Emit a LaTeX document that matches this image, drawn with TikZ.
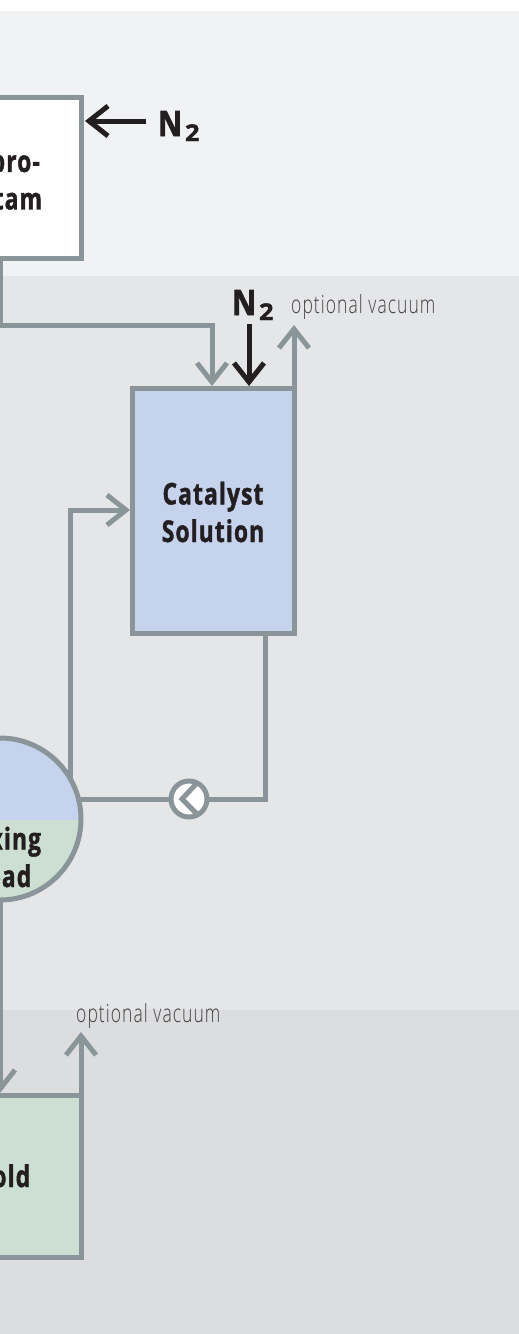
\documentclass[tikz,border=0pt]{standalone}
\usepackage{fontspec}
\usetikzlibrary{arrows.meta,calc}
\setmainfont{Open Sans}
\newfontfamily\condbold[FakeStretch=0.76,FakeBold=1.4,LetterSpace=3.7,UprightFont={* Bold}]{Open Sans}
\newfontfamily\gasbold[FakeStretch=0.84,FakeBold=2,UprightFont={* Bold}]{Open Sans}
\newfontfamily\subbold[FakeStretch=1.1,FakeBold=2,UprightFont={* Bold}]{Open Sans}
\newfontfamily\condlight[FakeStretch=0.7,LetterSpace=4.2,UprightFont={* Light}]{Open Sans}
\definecolor{bandA}{HTML}{F1F2F4}
\definecolor{bandB}{HTML}{E5E6E8}
\definecolor{bandC}{HTML}{DCDDDF}
\definecolor{pipe}{HTML}{8A9599}
\definecolor{ink}{HTML}{231F20}
\definecolor{blueliq}{HTML}{C5D3EC}
\definecolor{greenliq}{HTML}{CCDFD2}
\pgfdeclarelayer{bands}
\pgfdeclarelayer{pipes}
\pgfsetlayers{bands,pipes,main}
\tikzset{
  vessel/.style={draw=pipe,line width=5pt,inner sep=0pt,outer sep=0pt,rectangle},
  pipeline/.style={draw=pipe,line width=5pt,line join=miter},
  barb/.style={-{Straight Barb[length=19pt,width=30pt,line width=5pt]}},
  gasline/.style={draw=ink,line width=5pt},
  boxlabel/.style={text=ink,font={\condbold\fontsize{30}{37.5}\selectfont},align=center,inner sep=0pt},
  gaslabel/.style={text=ink,inner sep=0pt,anchor=base west},
  vaclabel/.style={text=ink!85,font={\condlight\fontsize{25}{29}\selectfont},inner sep=0pt,anchor=base west},
}
\newcommand{\NTwo}{{\gasbold\fontsize{35}{35}\selectfont N\kern3pt}{\subbold\fontsize{23}{23}\selectfont\raisebox{-5pt}{2}}}
\begin{document}
\begin{tikzpicture}[x=1pt,y=-1pt]
\useasboundingbox (0,0) rectangle (519,1334);
\begin{pgfonlayer}{bands}
\fill[white] (0,0) rectangle (519,11);
\fill[bandA] (0,11) rectangle (519,276);
\fill[bandB] (0,276) rectangle (519,1010);
\fill[bandC] (0,1010) rectangle (519,1334);
\end{pgfonlayer}

% vessels
\node[vessel,fill=white,minimum width=162pt,minimum height=161pt] (capro) at (0,177.5) {};
\node[vessel,fill=blueliq,minimum width=162pt,minimum height=245pt] (cat) at (213,510.5) {};
\node[vessel,fill=greenliq,minimum width=162pt,minimum height=162pt] (mold) at (0,1176) {};
\coordinate (mix) at (0,819);
\fill[blueliq] (-81,820) arc[start angle=180,end angle=0,radius=81pt] -- cycle;
\fill[greenliq] (-81,820) arc[start angle=180,end angle=360,radius=81pt] -- cycle;
\node[draw=pipe,line width=5pt,circle,minimum size=162pt,inner sep=0pt,outer sep=0pt] (mixing) at (mix) {};

% pump
\node[draw=pipe,fill=white,line width=5pt,circle,minimum size=36pt,inner sep=0pt,outer sep=0pt] (pump) at (189,799) {};
\draw[pipe,line width=5pt,line cap=butt,miter limit=10] ($(pump)+(8,-16)$) -- ($(pump)+(-7,0)$) -- ($(pump)+(9,16)$);

% free ends and bends
\coordinate (n2a) at (146,121);
\coordinate (n2atip) at (85,121);
\coordinate (n2b) at (249,324);
\coordinate (n2btip) at (249,386);
\coordinate (vac1) at (294,325);
\coordinate (vac2) at (81,1032);
\coordinate (feedin) at (212,386);
\coordinate (catin) at (130,510);
\coordinate (catout) at (265,633);
\coordinate (moldin) at (0,1093);

\begin{pgfonlayer}{pipes}
\draw[pipeline,barb] (capro.south) |- (212,325) -- (feedin);
\draw[pipeline,barb] (294,388) -- (vac1);
\draw[pipeline,barb] (70,780) |- (catin);
\draw[pipeline] (catout) |- (pump.east);
\draw[pipeline] (pump.west) -- (mixing.center |- pump);
\draw[pipeline,barb] (mixing.south) -- (moldin);
\draw[pipeline,barb] (81,1095) -- (vac2);
\end{pgfonlayer}
\draw[gasline,barb] (n2a) -- (n2atip);
\draw[gasline,barb] (n2b) -- (n2btip);

% labels
\node[boxlabel] (caprotext) at (0,180) {Capro-\\lactam};
\node[boxlabel] (cattext) at (213,512) {Catalyst\\Solution};
\node[boxlabel] (mixtext) at (0,857) {Mixing\\Head};
\node[boxlabel,anchor=base] (moldtext) at (0,1187) {Mold};
\node[gaslabel] (gasA) at (158,136) {\NTwo};
\node[gaslabel] (gasB) at (232,315) {\NTwo};
\node[vaclabel] (vacA) at (291,313) {optional vacuum};
\node[vaclabel] (vacB) at (76,1022) {optional vacuum};
\end{tikzpicture}
\end{document}
